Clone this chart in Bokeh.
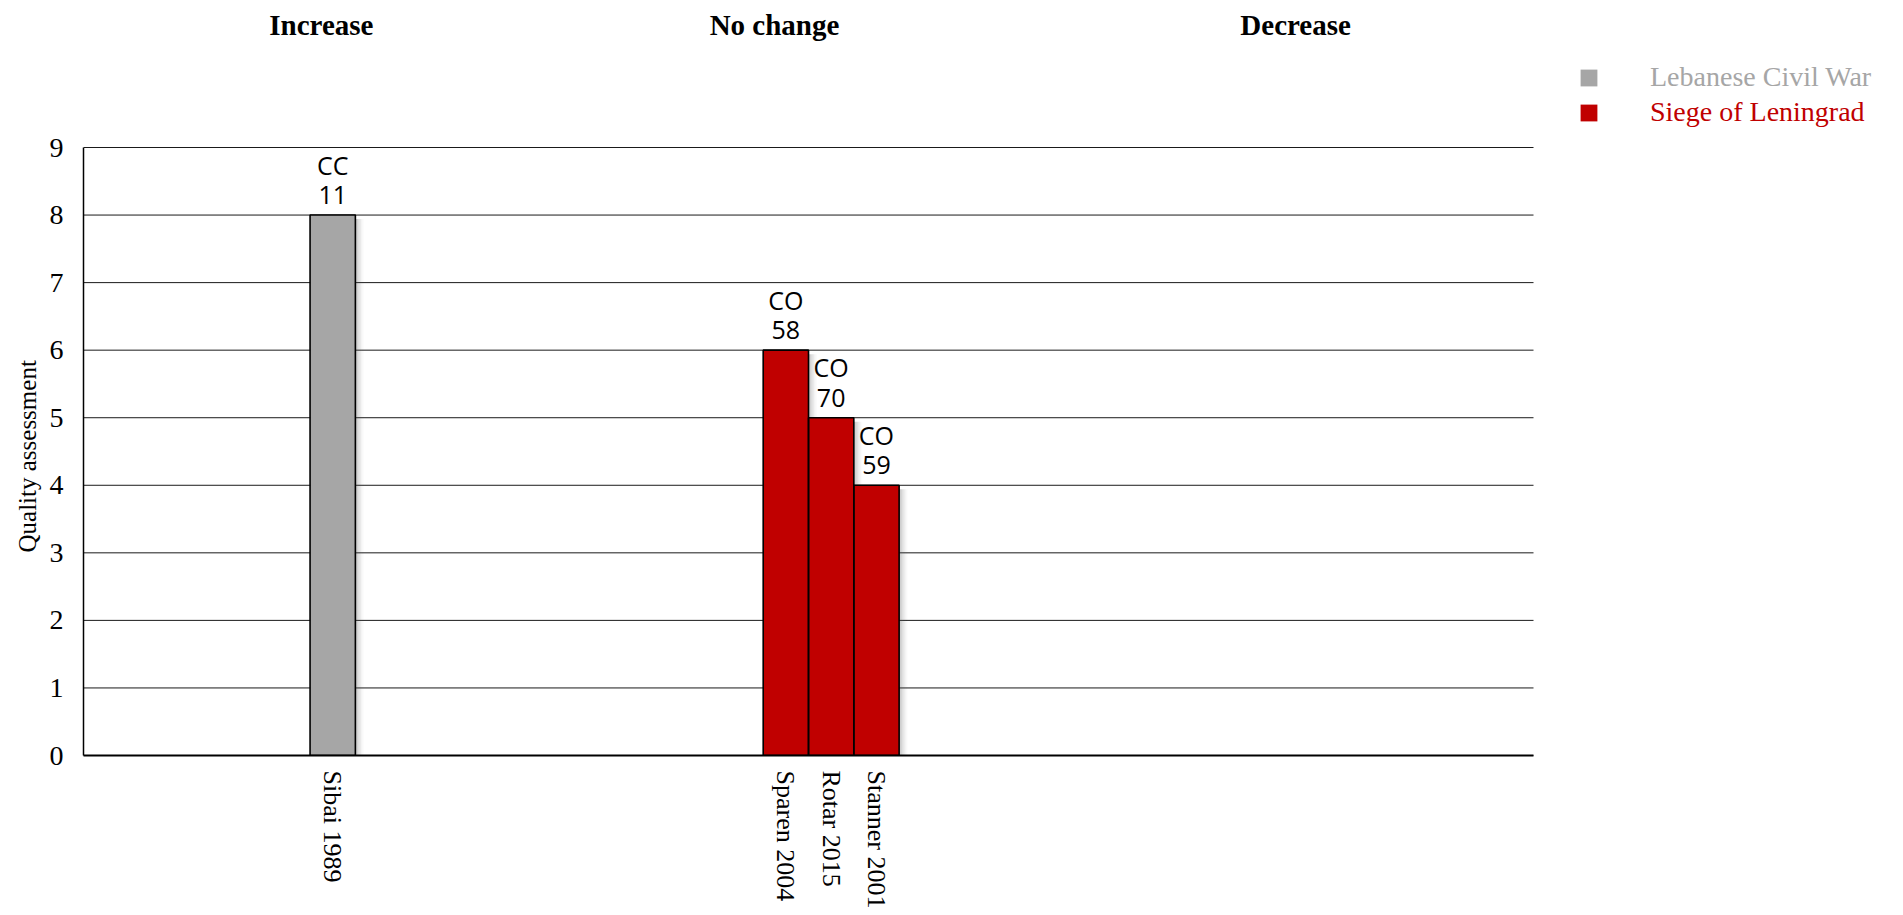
from bokeh.plotting import figure
from bokeh.models import (ColumnDataSource, FixedTicker, Label, Legend, LegendItem,
                          CDSView, GroupFilter, Title)
from bokeh.embed import file_html
from bokeh.resources import INLINE
from bokeh.core.properties import value

# ---------------- data ----------------
studies = ["Sibai 1989", "Sparen 2004", "Rotar 2015", "Stanner 2001"]
groups = ["Increase", "No change", "No change", "No change"]
contexts = ["Lebanese Civil War", "Siege of Leningrad", "Siege of Leningrad", "Siege of Leningrad"]
quality = [8, 6, 5, 4]
design = ["CC", "CO", "CO", "CO"]
score_ids = ["11", "58", "70", "59"]
group_names = ["Increase", "No change", "Decrease"]
context_names = ["Lebanese Civil War", "Siege of Leningrad"]
y_ticks = [0, 1, 2, 3, 4, 5, 6, 7, 8, 9]
y_title = "Quality assessment"

# ---------------- layout / style ----------------
N_SLOTS = 32          # category slots spanned by the axis
Y_MAX = 9
group_start = {"Increase": 5, "No change": 15, "Decrease": 26.5}
header_shift = 0.25
context_color = {"Lebanese Civil War": "#A6A6A6", "Siege of Leningrad": "#C00000"}
LEFT = 83             # left border (y axis panel)
AXIS_W, AXIS_H = 1450, 608   # pixel size of the axes box
TOP_PAD = 147         # pixels above the axes box (headers, legend)
CANVAS_W = 1887
FRAME_W = CANVAS_W - LEFT
FRAME_H = AXIS_H + TOP_PAD
px_x = AXIS_W / N_SLOTS
px_y = AXIS_H / Y_MAX
SERIF = "Liberation Serif"

xs = []
count = {}
for g in groups:
    k = count.get(g, 0)
    xs.append(group_start[g] + k + 0.5)
    count[g] = k + 1

src = ColumnDataSource(dict(
    x=xs, top=quality, study=studies, context=contexts,
    label=[f"{d}\n{n}" for d, n in zip(design, score_ids)],
))

p = figure(frame_width=FRAME_W, frame_height=FRAME_H,
           x_range=(0, FRAME_W / px_x), y_range=(0, FRAME_H / px_y),
           output_backend="svg", toolbar_location=None,
           min_border_left=LEFT, min_border_right=0,
           min_border_top=0, min_border_bottom=0)
p.outline_line_color = None
p.background_fill_color = "white"
p.xgrid.visible = False
p.ygrid.visible = False

# horizontal grid lines, limited to the axes box
p.segment(x0=[0] * len(y_ticks), x1=[N_SLOTS] * len(y_ticks), y0=y_ticks, y1=y_ticks,
          line_color="#1a1a1a", line_width=1)

# soft drop shadows right of each bar
steps = 6
for i in range(steps):
    w = 1.4
    left = [x + 0.5 + (i * w) / px_x for x in xs]
    right = [x + 0.5 + ((i + 1) * w) / px_x for x in xs]
    tops = [t - 4 / px_y for t in quality]
    alpha = 0.34 * (1 - i / steps) ** 1.5
    p.quad(left=left, right=right, bottom=[0] * len(xs), top=tops,
           fill_color="#555555", fill_alpha=alpha, line_color=None)

# bar fills, one renderer per context (used by the legends)
fill_renderers = {}
for c in context_names:
    view = CDSView(filter=GroupFilter(column_name="context", group=c))
    fill_renderers[c] = p.vbar(x="x", top="top", width=1, bottom=0, source=src, view=view,
                               fill_color=context_color[c], line_color=None)
# bar outlines
p.vbar(x="x", top="top", width=1, bottom=0, source=src,
       fill_color=None, line_color="black", line_width=1.6)

p.text(x="x", y="top", text="label", source=src, y_offset=-4,
       text_align="center", text_baseline="bottom",
       text_font=value("Open Sans"), text_font_size="25px",
       text_line_height=0.86, text_color="black")

# axes
p.yaxis.ticker = FixedTicker(ticks=y_ticks)
p.yaxis.bounds = (0, Y_MAX)
p.yaxis.major_label_text_font = SERIF
p.yaxis.major_label_text_font_size = "28px"
p.yaxis.major_label_text_color = "black"
p.yaxis.major_label_standoff = 20
p.yaxis.major_tick_line_color = None
p.yaxis.minor_tick_line_color = None
p.yaxis.major_tick_out = 0
p.yaxis.major_tick_in = 0
p.yaxis.minor_tick_out = 0
p.yaxis.axis_label_standoff = 0
p.yaxis.axis_line_color = "black"
p.yaxis.axis_line_width = 1.5

# y-axis title, centred on the axes box (not on the taller frame)
p.add_layout(Title(text=y_title, align="left", offset=203, standoff=11,
                   text_font=SERIF, text_font_style="normal",
                   text_font_size="25px", text_color="black"), "left")

p.xaxis.ticker = FixedTicker(ticks=xs)
p.xaxis.bounds = (0, N_SLOTS)
p.xaxis.major_label_overrides = {x: s for x, s in zip(xs, studies)}
p.xaxis.major_label_orientation = "vertical"
p.xaxis.major_label_text_font = SERIF
p.xaxis.major_label_text_font_size = "26px"
p.xaxis.major_label_text_color = "black"
p.xaxis.major_label_standoff = 15
p.xaxis.major_tick_line_color = None
p.xaxis.minor_tick_line_color = None
p.xaxis.major_tick_out = 0
p.xaxis.major_tick_in = 0
p.xaxis.minor_tick_out = 0
p.xaxis.axis_label_standoff = 0
p.xaxis.axis_line_color = "black"
p.xaxis.axis_line_width = 2

# group headers above the axes box
for g in group_names:
    p.add_layout(Label(x=group_start[g] + header_shift, y=FRAME_H - 24,
                       x_units="data", y_units="screen", text=g,
                       text_font=SERIF, text_font_style="bold",
                       text_font_size="29px", text_color="black",
                       text_align="center", text_baseline="middle"))

# legends (one per context so each label has its own colour)
leg_y = [FRAME_H - 93, FRAME_H - 128]
for c, ly in zip(context_names, leg_y):
    leg = Legend(items=[LegendItem(label=c, renderers=[fill_renderers[c]])],
                 location=(1578 - LEFT, ly),
                 padding=0, margin=0, glyph_width=21, glyph_height=21,
                 label_standoff=51, label_text_font=SERIF,
                 label_text_font_size="28px", label_text_color=context_color[c],
                 border_line_color=None, background_fill_alpha=0)
    p.add_layout(leg)

open("out.html", "w").write(file_html(p, INLINE))
